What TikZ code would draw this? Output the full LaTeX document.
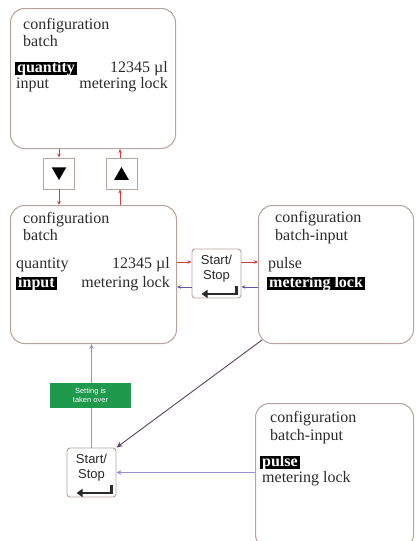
\documentclass[tikz,border=0pt]{standalone}
\usepackage{fontspec}
\setmainfont{Liberation Serif}
\setsansfont{Liberation Sans}
\usetikzlibrary{arrows.meta, positioning, shapes.geometric}
\definecolor{framecol}{HTML}{B8A29C}
\definecolor{inkcol}{HTML}{2B2B2B}
\definecolor{redarm}{HTML}{C9403F}
\definecolor{bluearm}{HTML}{5B5BA5}
\definecolor{lavarm}{HTML}{9B8FD0}
\definecolor{diagarm}{HTML}{5E3F66}
\definecolor{okgreen}{HTML}{1F9A4C}
\newcommand{\scrsize}{\fontsize{16}{17}\selectfont}
\newcommand{\enterkey}[1]{%
  \draw[line width=2.2pt, inkcol, -{Triangle[length=6pt,width=8pt]}]
    ([xshift=-5pt,yshift=12pt]#1.south east) |- ([xshift=10pt,yshift=4.5pt]#1.south west);}
\tikzset{
  screen/.style={draw=framecol, line width=1pt, rounded corners=14pt,
                 anchor=north west, inner sep=0pt},
  scrl/.style={font=\scrsize, text=inkcol, inner sep=0pt, anchor=base west},
  scrr/.style={font=\scrsize, text=inkcol, inner sep=0pt, anchor=base east},
  scrhl/.style={font=\scrsize\bfseries, text=white, fill=black, anchor=base west,
                inner xsep=2pt, inner ysep=0pt, text height=10pt, text depth=3pt},
  keybox/.style={draw=framecol, line width=0.9pt, rounded corners=3pt, fill=white,
                 minimum width=49pt, minimum height=49pt},
  keytext/.style={font=\sffamily\fontsize{13}{15}\selectfont, align=center,
                  text=inkcol, inner sep=0pt},
  arrowkey/.style={draw=framecol, line width=0.9pt, fill=white, minimum size=31pt,
                   inner sep=0pt},
  tri/.style={regular polygon, regular polygon sides=3, fill=black,
              minimum size=17pt, inner sep=0pt},
  redlink/.style={draw=redarm, line width=0.8pt, -{Stealth[length=4pt,width=3.5pt]}},
  bluelink/.style={draw=bluearm, line width=0.8pt, -{Stealth[length=4pt,width=3.5pt]}},
  lavlink/.style={draw=lavarm, line width=1.8pt, -{Stealth[length=5pt,width=4.5pt]}},
  diaglink/.style={draw=diagarm, line width=0.9pt, -{Stealth[length=6pt,width=5pt]}},
  okbadge/.style={fill=okgreen, text=white, font=\sffamily\fontsize{7.5}{8.5}\selectfont,
                  align=center, minimum width=81pt, minimum height=25pt, inner sep=0pt},
}
\begin{document}
\begin{tikzpicture}[x=1pt, y=-1pt]
  \useasboundingbox (0,0) rectangle (417,541);

  % screens
  \node[screen, minimum width=165pt, minimum height=140pt] (b1) at (10,8) {};
  \node[scrl] (b1l1) at (23,29) {configuration};
  \node[scrl] (b1l2) at (23,46) {batch};
  \node[scrhl] (b1q) at (15,72) {quantity};
  \node[scrr] (b1v) at (168,72) {12345 µl};
  \node[scrl] (b1i) at (16,88) {input};
  \node[scrr] (b1m) at (168,88) {metering lock};

  \node[screen, minimum width=166pt, minimum height=138pt] (b2) at (10,205) {};
  \node[scrl] (b2l1) at (23,223) {configuration};
  \node[scrl] (b2l2) at (23,240) {batch};
  \node[scrl] (b2q) at (16,268) {quantity};
  \node[scrr] (b2v) at (170,268) {12345 µl};
  \node[scrhl] (b2i) at (16,287) {input};
  \node[scrr] (b2m) at (170,287) {metering lock};

  \node[screen, minimum width=155pt, minimum height=138pt] (b3) at (258,205) {};
  \node[scrl] (b3l1) at (275,222) {configuration};
  \node[scrl] (b3l2) at (275,240) {batch-input};
  \node[scrl] (b3p) at (268,268) {pulse};
  \node[scrhl] (b3m) at (267,287) {metering lock};

  \node[screen, minimum width=158pt, minimum height=145pt] (b4) at (255,403) {};
  \node[scrl] (b4l1) at (270,422) {configuration};
  \node[scrl] (b4l2) at (270,440) {batch-input};
  \node[scrhl] (b4p) at (260,466) {pulse};
  \node[scrl] (b4m) at (262,482) {metering lock};

  % keys
  \node[arrowkey] (dn) at (59,173.5) {};
  \node[tri, shape border rotate=180] (dntri) at ([yshift=2pt]dn.center) {};
  \node[arrowkey] (up) at (121.5,173.5) {};
  \node[tri] (uptri) at ([yshift=-2pt]up.center) {};

  \node[keybox] (k1) at (216.5,273.5) {};
  \node[keytext] (k1t) at ([yshift=5pt]k1.center) {Start/\\Stop};
  \enterkey{k1}
  \node[keybox] (k2) at (91.5,472.5) {};
  \node[keytext] (k2t) at ([yshift=5pt]k2.center) {Start/\\Stop};
  \enterkey{k2}

  % links
  \draw[redlink] (dn.north |- b1.south) -- (dn.north);
  \draw[redlink] (dn.south) -- (dn.south |- b2.north);
  \draw[redlink] ([xshift=-1.5pt]up.south |- b2.north) -- ([xshift=-1.5pt]up.south);
  \draw[redlink] ([xshift=-1.5pt]up.north) -- ([xshift=-1.5pt]up.north |- b1.south);

  \coordinate (k1hi) at ([yshift=11.5pt]k1.center);
  \coordinate (k1lo) at ([yshift=-13.5pt]k1.center);
  \draw[redlink] (k1hi -| b2.east) -- (k1hi -| k1.west);
  \draw[redlink] (k1hi -| k1.east) -- (k1hi -| b3.west);
  \draw[bluelink] (k1lo -| b3.west) -- (k1lo -| k1.east);
  \draw[bluelink] (k1lo -| k1.west) -- (k1lo -| b2.east);

  \draw[lavlink] (k2.north) -- (k2.north |- b2.south);
  \node[okbadge] (ok) at (90.5,395.5) {Setting is\\taken over};
  \draw[lavlink] (k2.east -| b4.west) -- (k2.east);
  \draw[diaglink] ([shift={(4pt,4pt)}]b3.south west) -- (k2.north east);
\end{tikzpicture}
\end{document}
